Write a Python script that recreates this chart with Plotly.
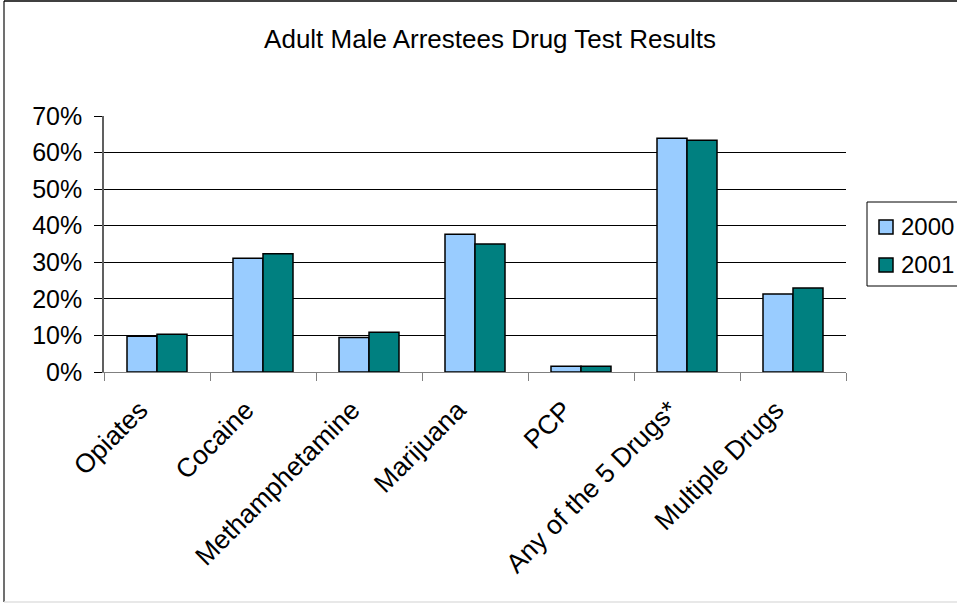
import plotly.graph_objects as go

categories = ["Opiates", "Cocaine", "Methamphetamine", "Marijuana", "PCP",
              "Any of the 5 Drugs*", "Multiple Drugs"]
values_2000 = [0.098, 0.311, 0.094, 0.377, 0.016, 0.639, 0.213]
values_2001 = [0.103, 0.323, 0.109, 0.350, 0.016, 0.634, 0.230]
series_names = ["2000", "2001"]
series_colors = ["#99CCFF", "#008080"]
y_ticks = [0, 0.1, 0.2, 0.3, 0.4, 0.5, 0.6, 0.7]
y_tick_text = ["0%", "10%", "20%", "30%", "40%", "50%", "60%", "70%"]

W, H = 957, 604
L, R, T, B = 104, 111, 116, 232
pw, ph = W - L - R, H - T - B

def px_x(x):
    return (x - L) / pw

def px_y(y):
    return 1 - (y - T) / ph

FONT = "Liberation Sans, Arial, sans-serif"
FS = 25

fig = go.Figure()
for name, vals, col in zip(series_names, [values_2000, values_2001], series_colors):
    fig.add_bar(x=categories, y=vals, name=name,
                marker=dict(color=col, line=dict(color="black", width=1.5)))

fig.update_layout(
    width=W, height=H,
    margin=dict(l=L, r=R, t=T, b=B, autoexpand=False),
    paper_bgcolor="white", plot_bgcolor="white",
    barmode="group", bargap=0.434, bargroupgap=0,
    font=dict(family=FONT, size=FS, color="black"),
    title=dict(text="Adult Male Arrestees Drug Test Results",
               x=490 / W, xanchor="center", y=1 - 39 / H, yanchor="middle",
               font=dict(family=FONT, size=26, color="black")),
    showlegend=False,
)

fig.update_xaxes(
    type="category", tickangle=-45, tickson="boundaries",
    ticks="outside", ticklen=8, tickcolor="#808080", tickwidth=1,
    showline=True, linecolor="#808080", linewidth=1,
    showgrid=False, tickfont=dict(family=FONT, size=26.5, color="black"),
    ticklabelshift=-17, ticklabelstandoff=11,
)
fig.update_yaxes(
    range=[0, 0.7], tickvals=y_ticks, ticktext=y_tick_text,
    ticks="outside", ticklen=8, tickcolor="black", tickwidth=1,
    showline=True, linecolor="#606060", linewidth=1.5,
    showgrid=True, gridcolor="black", gridwidth=1, zeroline=False,
    tickfont=dict(family=FONT, size=FS, color="black"),
    ticklabelstandoff=7,
)

# Legend box (runs past the right edge of the chart area)
box = dict(type="line", xref="paper", yref="paper", line=dict(color="black", width=1))
fig.add_shape(**box, x0=px_x(867), x1=px_x(867), y0=px_y(202), y1=px_y(286))
fig.add_shape(**box, x0=px_x(867), x1=px_x(957), y0=px_y(202), y1=px_y(202))
fig.add_shape(**box, x0=px_x(867), x1=px_x(957), y0=px_y(286), y1=px_y(286))
for i, (name, col) in enumerate(zip(series_names, series_colors)):
    cy = 227 + 38 * i
    fig.add_shape(type="rect", xref="paper", yref="paper",
                  x0=px_x(879), x1=px_x(893), y0=px_y(cy - 7), y1=px_y(cy + 7),
                  fillcolor=col, line=dict(color="black", width=1.5))
    fig.add_annotation(text=name, xref="paper", yref="paper",
                       x=px_x(899), y=px_y(cy - 1), xanchor="left", yanchor="middle",
                       showarrow=False, font=dict(family=FONT, size=24, color="black"))

# Outer chart frame
fig.add_shape(type="line", xref="paper", yref="paper",
              x0=px_x(4), x1=px_x(4), y0=px_y(1), y1=px_y(602),
              line=dict(color="#404040", width=1.5))
fig.add_shape(type="line", xref="paper", yref="paper",
              x0=px_x(4), x1=px_x(957), y0=px_y(1), y1=px_y(1),
              line=dict(color="black", width=1.5))
fig.add_shape(type="line", xref="paper", yref="paper",
              x0=px_x(4), x1=px_x(957), y0=px_y(602), y1=px_y(602),
              line=dict(color="#E0E0E0", width=1.5))

fig.write_html("out.html")
